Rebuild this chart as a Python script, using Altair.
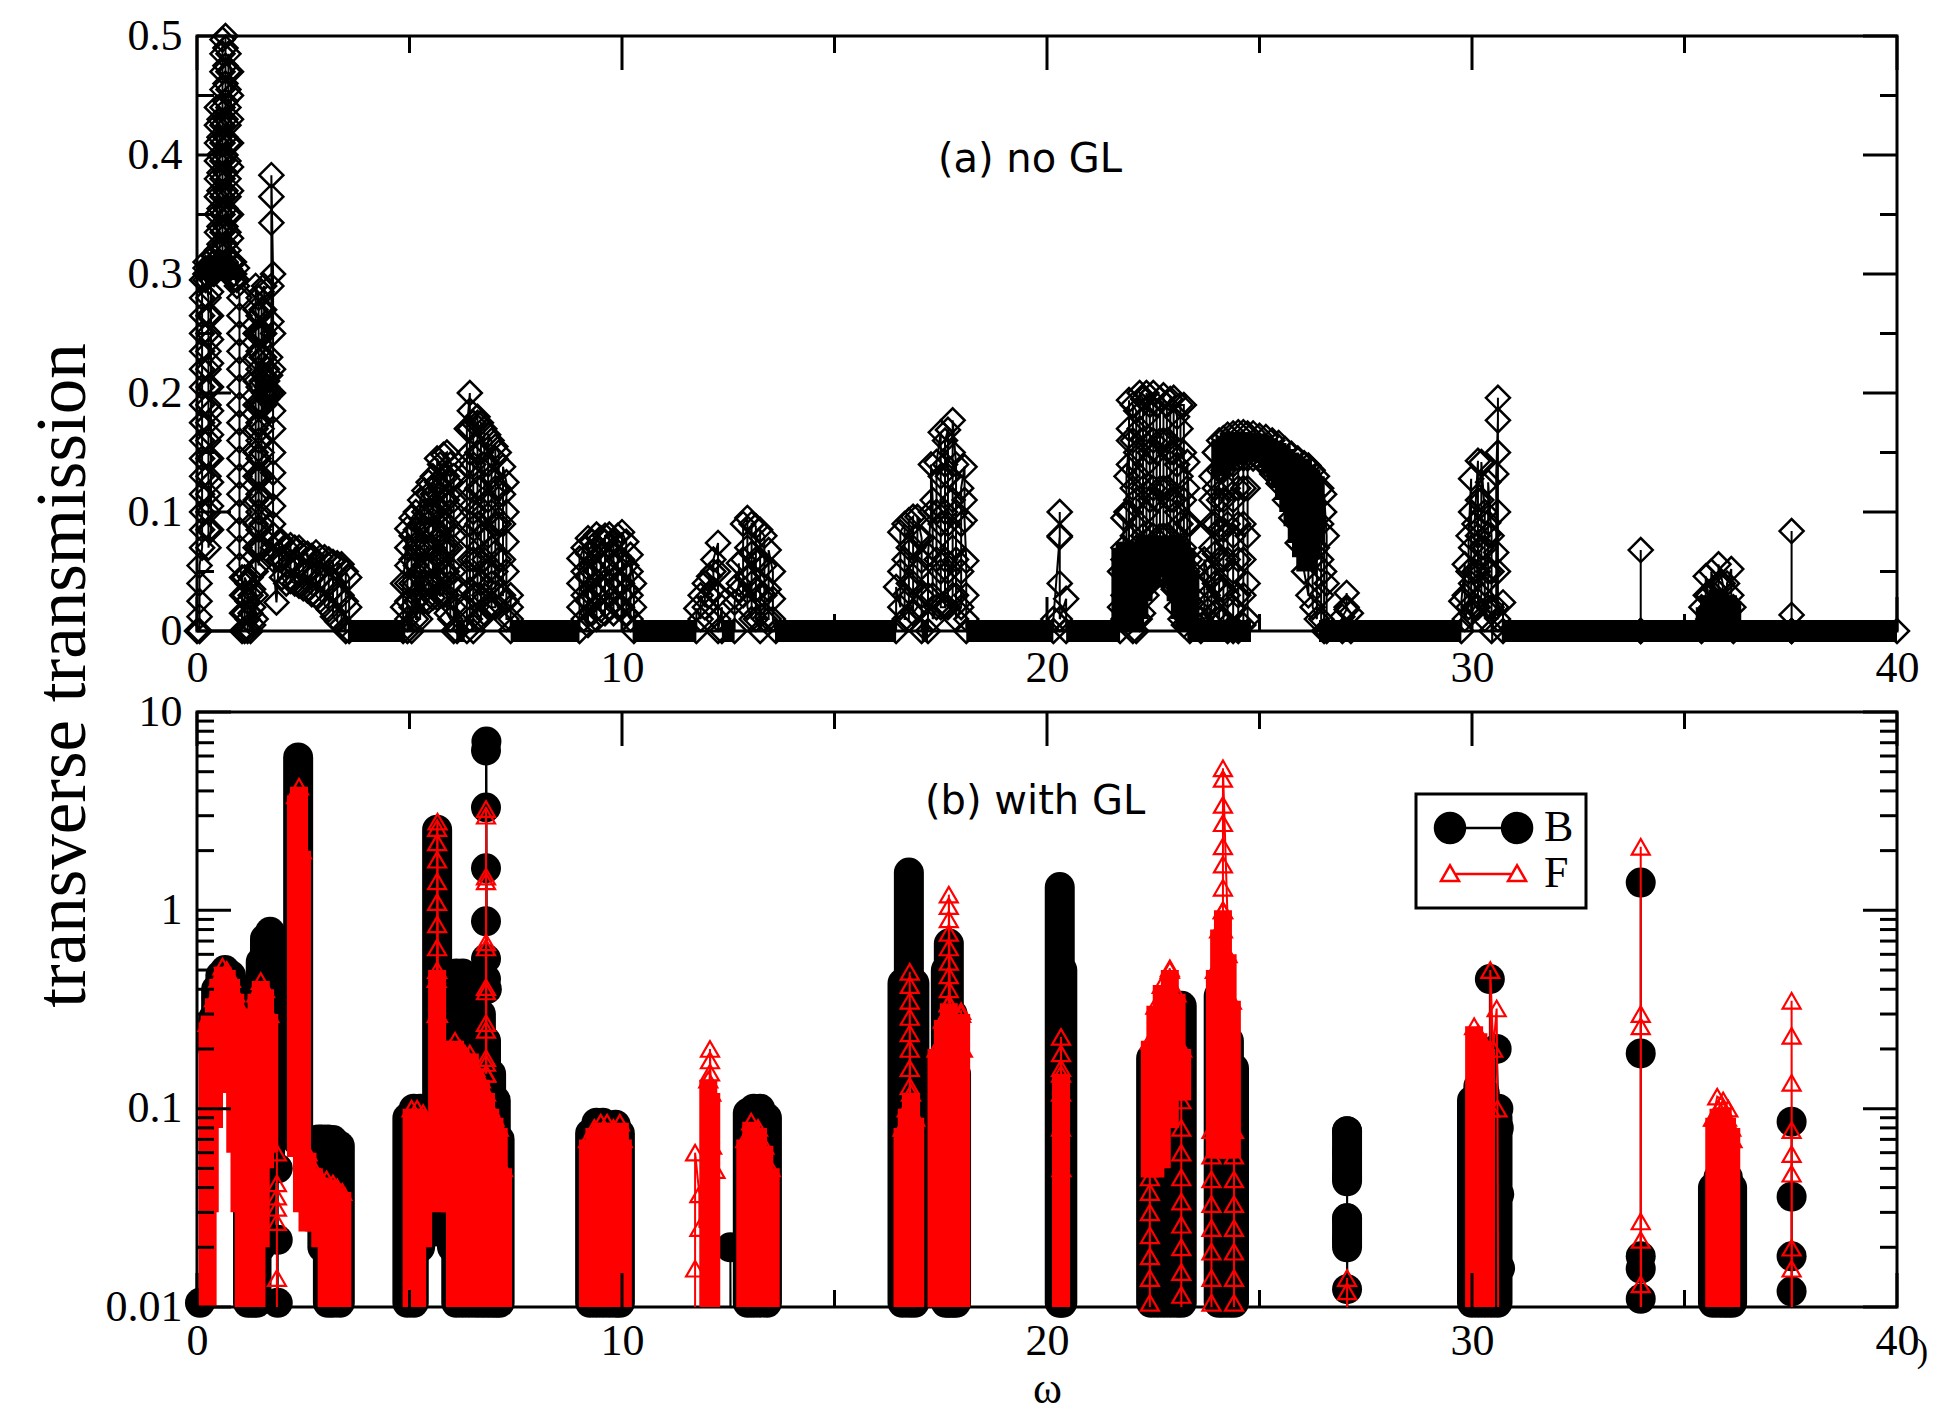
import altair as alt
import pandas as pd

W, H = 1700, 595
SERIF = "Liberation Serif"

# ---------------- panel (a): no GL  (omega, [T values in sequence]) ----------------
A_RUNS = [
    (0.00, [0.0]),
    (0.06, [0.0, 0.012, 0.025, 0.04, 0.055]),
    (0.12, [0.07, 0.085, 0.1, 0.115, 0.13, 0.145, 0.16, 0.175, 0.19, 0.205, 0.22, 0.235, 0.25, 0.265, 0.28, 0.295]),
    (0.2, [0.305, 0.3, 0.31, 0.295]),
    (0.27, [0.28, 0.265, 0.25, 0.235, 0.22, 0.205, 0.19, 0.175, 0.16, 0.145, 0.13, 0.115, 0.1, 0.085, 0.07]),
    (0.33, [0.085, 0.105, 0.125, 0.145, 0.165, 0.185, 0.205, 0.225, 0.245, 0.265, 0.285, 0.3]),
    (0.4, [0.31, 0.3, 0.315, 0.305]),
    (0.47, [0.32, 0.335, 0.35, 0.365, 0.38, 0.395, 0.41, 0.425, 0.44]),
    (0.53, [0.43, 0.415, 0.4, 0.385, 0.37, 0.355, 0.34, 0.325, 0.31]),
    (0.6, [0.32, 0.335, 0.35, 0.365, 0.38, 0.395, 0.41, 0.425, 0.44, 0.455, 0.47, 0.485, 0.497]),
    (0.67, [0.5, 0.49, 0.475, 0.46, 0.445, 0.43, 0.415, 0.4, 0.385, 0.37, 0.355, 0.34, 0.325, 0.31]),
    (0.74, [0.32, 0.335, 0.35, 0.365, 0.38, 0.395, 0.41, 0.425, 0.44, 0.455, 0.47, 0.485]),
    (0.8, [0.47, 0.45, 0.43, 0.41, 0.39, 0.37, 0.35, 0.33, 0.31]),
    (0.87, [0.3, 0.295, 0.31, 0.3]),
    (0.94, [0.29, 0.305, 0.295]),
    (1.0, [0.28, 0.265, 0.25, 0.235, 0.22, 0.205, 0.19, 0.175, 0.16, 0.145, 0.13, 0.115, 0.1, 0.085, 0.07, 0.055]),
    (1.06, [0.045, 0.03, 0.015, 0.0]),
    (1.12, [0.0, 0.015, 0.03, 0.045]),
    (1.19, [0.04, 0.025, 0.01, 0.0]),
    (1.26, [0.0, 0.015, 0.03, 0.045]),
    (1.32, [0.035, 0.02, 0.005]),
    (1.38, [0.01, 0.03, 0.05, 0.07, 0.09, 0.11, 0.13, 0.15, 0.17, 0.19, 0.21, 0.23, 0.25, 0.27, 0.29]),
    (1.45, [0.28, 0.265, 0.25, 0.235, 0.22, 0.205, 0.19, 0.175, 0.16, 0.145, 0.13, 0.115, 0.1, 0.085, 0.07, 0.055]),
    (1.52, [0.07, 0.09, 0.11, 0.13, 0.15, 0.17, 0.19, 0.21, 0.23, 0.25, 0.27, 0.285]),
    (1.58, [0.29, 0.27, 0.25, 0.23, 0.215, 0.2, 0.19]),
    (1.65, [0.2, 0.21, 0.22, 0.205, 0.195]),
    (1.72, [0.2, 0.215, 0.23]),
    (1.75, [0.26, 0.29, 0.343, 0.365, 0.383]),
    (1.79, [0.3, 0.25, 0.22, 0.2, 0.185, 0.17, 0.15, 0.133, 0.12, 0.105, 0.09, 0.081, 0.07, 0.06]),
    (1.87, [0.024]),
    (1.93, [0.06, 0.075]),
    (2.0, [0.075, 0.06, 0.045]),
    (2.1, [0.04, 0.055, 0.07]),
    (2.2, [0.072, 0.058, 0.042]),
    (2.3, [0.04, 0.055, 0.07]),
    (2.4, [0.07, 0.055, 0.038]),
    (2.5, [0.036, 0.05, 0.066]),
    (2.6, [0.065, 0.05, 0.034]),
    (2.7, [0.031, 0.046, 0.063]),
    (2.8, [0.066, 0.048, 0.03]),
    (2.9, [0.026, 0.045, 0.062]),
    (3.0, [0.062, 0.042, 0.022]),
    (3.1, [0.018, 0.04, 0.06]),
    (3.2, [0.058, 0.035, 0.012]),
    (3.3, [0.008, 0.03, 0.057]),
    (3.4, [0.056, 0.03, 0.005]),
    (3.5, [0.0, 0.025, 0.05]),
    (3.58, [0.045, 0.02, 0.0]),
    (4.85, [0.0, 0.02, 0.04]),
    (4.95, [0.086, 0.07, 0.055, 0.04, 0.025, 0.01, 0.0]),
    (5.05, [0.0, 0.02, 0.04, 0.06, 0.08, 0.095]),
    (5.15, [0.1, 0.085, 0.07, 0.055, 0.04, 0.025, 0.01]),
    (5.25, [0.01, 0.03, 0.05, 0.07, 0.09, 0.11]),
    (5.35, [0.118, 0.1, 0.085, 0.07, 0.055, 0.04, 0.025]),
    (5.45, [0.025, 0.04, 0.055, 0.07, 0.085, 0.1, 0.115, 0.125]),
    (5.55, [0.13, 0.115, 0.1, 0.085, 0.07, 0.055, 0.04, 0.028]),
    (5.65, [0.028, 0.045, 0.065, 0.085, 0.105, 0.125, 0.145]),
    (5.72, [0.14, 0.12, 0.1, 0.08, 0.06, 0.04, 0.03]),
    (5.8, [0.03, 0.05, 0.07, 0.09, 0.11, 0.13, 0.148]),
    (5.88, [0.15, 0.13, 0.11, 0.09, 0.07, 0.05, 0.03, 0.015]),
    (5.96, [0.01, 0.04, 0.07, 0.1, 0.125, 0.14]),
    (6.04, [0.13, 0.11, 0.08, 0.05, 0.02, 0.0]),
    (6.12, [0.035, 0.0]),
    (6.35, [0.0, 0.02, 0.05, 0.08, 0.11, 0.14, 0.17]),
    (6.42, [0.2, 0.185, 0.17, 0.15, 0.12, 0.09, 0.06, 0.035, 0.01]),
    (6.5, [0.0, 0.03, 0.06, 0.1, 0.14, 0.175]),
    (6.6, [0.18, 0.175, 0.15, 0.12, 0.09, 0.06, 0.03, 0.01]),
    (6.68, [0.01, 0.04, 0.08, 0.12, 0.15, 0.175]),
    (6.76, [0.17, 0.14, 0.1, 0.06, 0.03, 0.015]),
    (6.85, [0.02, 0.05, 0.08, 0.11, 0.14, 0.165]),
    (6.93, [0.16, 0.13, 0.1, 0.07, 0.04, 0.02]),
    (7.02, [0.02, 0.05, 0.09, 0.12, 0.145, 0.155]),
    (7.1, [0.15, 0.12, 0.09, 0.06, 0.03]),
    (7.2, [0.03, 0.06, 0.09, 0.115, 0.138]),
    (7.28, [0.125, 0.1, 0.075, 0.05, 0.025, 0.01]),
    (7.38, [0.01, 0.03, 0.02, 0.0]),
    (9.0, [0.0, 0.02, 0.04, 0.061]),
    (9.1, [0.07, 0.05, 0.03, 0.01]),
    (9.2, [0.005, 0.025, 0.045, 0.065, 0.078]),
    (9.3, [0.075, 0.055, 0.035, 0.015]),
    (9.4, [0.01, 0.03, 0.05, 0.07, 0.081]),
    (9.5, [0.078, 0.058, 0.038, 0.018]),
    (9.6, [0.015, 0.035, 0.055, 0.075, 0.08]),
    (9.7, [0.081, 0.06, 0.04, 0.02]),
    (9.8, [0.015, 0.035, 0.055, 0.075]),
    (9.9, [0.08, 0.06, 0.04, 0.02]),
    (10.0, [0.02, 0.04, 0.06, 0.083]),
    (10.1, [0.075, 0.055, 0.035, 0.015]),
    (10.2, [0.01, 0.03, 0.05, 0.064]),
    (10.28, [0.04, 0.02, 0.0]),
    (11.75, [0.0, 0.019]),
    (11.85, [0.01, 0.03]),
    (11.95, [0.02, 0.04]),
    (12.05, [0.03, 0.046]),
    (12.15, [0.035, 0.05, 0.06]),
    (12.26, [0.074, 0.05, 0.03, 0.01, 0.0]),
    (12.35, [0.02, 0.0]),
    (12.65, [0.0, 0.024]),
    (12.75, [0.04, 0.057, 0.035]),
    (12.85, [0.03, 0.06, 0.09]),
    (12.95, [0.095, 0.07, 0.045, 0.02]),
    (13.05, [0.01, 0.04, 0.065, 0.09]),
    (13.15, [0.088, 0.06, 0.035, 0.01]),
    (13.25, [0.0, 0.03, 0.06, 0.085]),
    (13.35, [0.08, 0.055, 0.03, 0.01]),
    (13.45, [0.01, 0.035, 0.068]),
    (13.55, [0.05, 0.027, 0.01]),
    (13.62, [0.0]),
    (16.45, [0.0, 0.037]),
    (16.55, [0.02, 0.05, 0.083]),
    (16.65, [0.09, 0.06, 0.03, 0.01]),
    (16.75, [0.01, 0.04, 0.07, 0.093]),
    (16.85, [0.096, 0.07, 0.04, 0.015]),
    (16.95, [0.02, 0.05, 0.08, 0.096]),
    (17.05, [0.078, 0.059, 0.03, 0.0]),
    (17.2, [0.0, 0.03, 0.064]),
    (17.27, [0.1, 0.14]),
    (17.31, [0.11, 0.07, 0.03, 0.01]),
    (17.4, [0.02, 0.06, 0.1, 0.142]),
    (17.5, [0.167, 0.13, 0.09, 0.05, 0.02]),
    (17.6, [0.02, 0.06, 0.1, 0.14, 0.16]),
    (17.67, [0.169, 0.13, 0.09, 0.05, 0.02]),
    (17.78, [0.03, 0.07, 0.11, 0.15, 0.177]),
    (17.86, [0.14, 0.1, 0.06, 0.03, 0.01]),
    (17.98, [0.02, 0.05, 0.09, 0.12]),
    (18.06, [0.138, 0.11, 0.093]),
    (18.1, [0.059, 0.03, 0.01, 0.0]),
    (20.15, [0.0, 0.01]),
    (20.3, [0.08, 0.1, 0.079, 0.04, 0.01]),
    (20.45, [0.027, 0.0]),
    (21.72, [0.0, 0.02, 0.05]),
    (21.8, [0.07, 0.095, 0.06, 0.03, 0.01]),
    (21.87, [0.02, 0.06, 0.1, 0.13]),
    (21.93, [0.16, 0.194, 0.17, 0.14, 0.1, 0.06, 0.03, 0.01]),
    (22.02, [0.0, 0.04, 0.08, 0.12, 0.16, 0.19]),
    (22.1, [0.185, 0.15, 0.11, 0.07, 0.03, 0.0]),
    (22.18, [0.01, 0.05, 0.09, 0.13, 0.17, 0.2]),
    (22.26, [0.195, 0.16, 0.12, 0.08, 0.04, 0.015]),
    (22.34, [0.03, 0.06, 0.1, 0.14, 0.18, 0.2]),
    (22.42, [0.19, 0.15, 0.11, 0.07, 0.04]),
    (22.5, [0.045, 0.08, 0.12, 0.16, 0.2]),
    (22.58, [0.19, 0.15, 0.11, 0.07, 0.046]),
    (22.66, [0.048, 0.08, 0.12, 0.16, 0.195]),
    (22.74, [0.198, 0.16, 0.12, 0.08, 0.048]),
    (22.82, [0.046, 0.08, 0.12, 0.16, 0.19]),
    (22.9, [0.195, 0.15, 0.11, 0.07, 0.04]),
    (22.98, [0.035, 0.07, 0.11, 0.15, 0.196]),
    (23.06, [0.18, 0.14, 0.1, 0.06, 0.02]),
    (23.14, [0.01, 0.05, 0.09, 0.13, 0.17, 0.19]),
    (23.22, [0.19, 0.15, 0.11, 0.07, 0.03, 0.005]),
    (23.3, [0.01, 0.05, 0.09, 0.12, 0.142]),
    (23.36, [0.09, 0.06, 0.025, 0.0]),
    (23.62, [0.0, 0.01]),
    (23.7, [0.02, 0.04, 0.06]),
    (23.78, [0.05, 0.03, 0.01]),
    (23.87, [0.02, 0.045, 0.07, 0.09, 0.11, 0.13]),
    (23.95, [0.15, 0.12, 0.09, 0.065, 0.04, 0.015]),
    (24.05, [0.01, 0.035, 0.06, 0.085, 0.11, 0.135, 0.16]),
    (24.15, [0.162, 0.135, 0.11, 0.085, 0.06, 0.035, 0.01]),
    (24.25, [0.0, 0.03, 0.06, 0.09, 0.12, 0.15, 0.165]),
    (24.38, [0.166, 0.14, 0.11, 0.08, 0.05, 0.02, 0.0]),
    (24.5, [0.0, 0.03, 0.06, 0.09, 0.12, 0.145, 0.167]),
    (24.62, [0.167, 0.145, 0.12, 0.09, 0.06, 0.03, 0.005]),
    (24.72, [0.01, 0.04, 0.08, 0.12, 0.145, 0.166]),
    (24.85, [0.166, 0.145]),
    (25.0, [0.144, 0.164]),
    (25.15, [0.163, 0.14]),
    (25.3, [0.132, 0.16]),
    (25.45, [0.158, 0.124]),
    (25.6, [0.11, 0.153]),
    (25.75, [0.149, 0.095]),
    (25.9, [0.074, 0.145]),
    (26.05, [0.141, 0.05]),
    (26.15, [0.03, 0.139]),
    (26.25, [0.135, 0.06, 0.02]),
    (26.35, [0.01, 0.07, 0.13]),
    (26.45, [0.12, 0.09, 0.06, 0.03, 0.01]),
    (26.52, [0.0, 0.05, 0.1, 0.115]),
    (26.58, [0.08, 0.04, 0.0]),
    (26.95, [0.0, 0.012]),
    (27.05, [0.018, 0.032, 0.02]),
    (27.15, [0.015, 0.0]),
    (29.75, [0.0, 0.025]),
    (29.83, [0.056, 0.03, 0.01]),
    (29.92, [0.02, 0.05, 0.08]),
    (29.98, [0.128, 0.1, 0.07, 0.04, 0.015]),
    (30.06, [0.02, 0.05, 0.09]),
    (30.14, [0.143, 0.11, 0.08, 0.05, 0.02]),
    (30.22, [0.03, 0.07, 0.11, 0.142]),
    (30.3, [0.1, 0.07, 0.04, 0.01]),
    (30.38, [0.02, 0.05, 0.081, 0.091, 0.125]),
    (30.46, [0.08, 0.05, 0.02, 0.0]),
    (30.57, [0.02, 0.066, 0.132]),
    (30.61, [0.177, 0.196, 0.15, 0.1, 0.05, 0.01]),
    (30.73, [0.024, 0.0]),
    (33.97, [0.0, 0.068, 0.0]),
    (35.4, [0.0, 0.02]),
    (35.5, [0.03, 0.046]),
    (35.56, [0.03, 0.01]),
    (35.63, [0.02, 0.05]),
    (35.72, [0.035, 0.015]),
    (35.8, [0.02, 0.04, 0.056]),
    (35.9, [0.04, 0.02, 0.005]),
    (36.0, [0.02, 0.04]),
    (36.1, [0.052, 0.03]),
    (36.15, [0.02, 0.0]),
    (37.52, [0.0, 0.084, 0.0135, 0.0]),
    (40.0, [0.0]),
]

# dense, fully overlapped stretches of diamonds in (a): (omega, T low, T high)
A_SOLID = [
    (0.25, 0.295, 0.31), (0.35, 0.295, 0.315), (0.45, 0.3, 0.315), (0.55, 0.3, 0.315),
    (0.65, 0.3, 0.31), (0.75, 0.3, 0.31), (0.85, 0.295, 0.305),
    (21.75, 0.0, 0.07), (21.85, 0.0, 0.075), (21.95, 0.0, 0.075), (22.05, 0.0, 0.075),
    (22.15, 0.01, 0.075), (22.25, 0.025, 0.075), (22.35, 0.035, 0.08), (22.45, 0.04, 0.08),
    (22.55, 0.045, 0.08), (22.65, 0.048, 0.08), (22.75, 0.048, 0.08), (22.85, 0.045, 0.08),
    (22.95, 0.038, 0.08), (23.05, 0.025, 0.078), (23.15, 0.01, 0.075), (23.25, 0.0, 0.07),
    (23.35, 0.0, 0.05),
    (24.1, 0.13, 0.16), (24.2, 0.135, 0.164), (24.3, 0.138, 0.166), (24.4, 0.14, 0.167),
    (24.5, 0.142, 0.167), (24.6, 0.143, 0.167), (24.7, 0.144, 0.166), (24.8, 0.145, 0.166),
    (24.9, 0.144, 0.166), (25.0, 0.143, 0.165), (25.1, 0.141, 0.164), (25.2, 0.137, 0.162),
    (25.3, 0.132, 0.16), (25.4, 0.126, 0.158), (25.5, 0.12, 0.156), (25.6, 0.11, 0.153),
    (25.7, 0.1, 0.15), (25.8, 0.088, 0.147), (25.9, 0.074, 0.145), (26.0, 0.062, 0.143),
    (26.1, 0.05, 0.14), (26.2, 0.06, 0.136), (26.3, 0.075, 0.13),
    (35.5, 0.0, 0.02), (35.6, 0.0, 0.03), (35.7, 0.0, 0.03), (35.8, 0.0, 0.035),
    (35.9, 0.0, 0.03), (36.0, 0.0, 0.03), (36.1, 0.0, 0.025),
]

# stretches where T(a) stays at zero (omega from, omega to)
A_ZERO = [
    (3.55, 4.9), (6.1, 6.3), (7.38, 9.0), (10.25, 11.75), (12.35, 12.65), (13.6, 16.45),
    (17.05, 17.2), (18.1, 20.15), (20.45, 21.72), (23.3, 24.8), (26.4, 29.75),
    (30.45, 30.5), (30.7, 40.0),
]

# ---------------- panel (b): with GL ----------------
# dense stacks of symbols: (omega, T low, T high)
B_SOLID = [
    (0.07, 0.0105, 0.0105),
    (0.38, 0.2, 0.286), (0.45, 0.25, 0.4), (0.55, 0.25, 0.47), (0.66, 0.26, 0.5), (0.8, 0.25, 0.47),
    (0.95, 0.2, 0.4), (1.05, 0.1, 0.33), (1.2, 0.0105, 0.29), (1.3, 0.0105, 0.28), (1.4, 0.0105, 0.35),
    (1.5, 0.02, 0.55), (1.6, 0.05, 0.72), (1.72, 0.06, 0.78),
    (2.38, 0.068, 5.9),
    (2.85, 0.03, 0.07), (2.95, 0.02, 0.07), (3.08, 0.0105, 0.07), (3.2, 0.0105, 0.0695), (3.36, 0.0105, 0.065),
    (4.95, 0.0105, 0.09), (5.1, 0.0105, 0.1), (5.25, 0.02, 0.1), (5.65, 0.024, 2.55),
    (5.85, 0.03, 0.35), (6.0, 0.02, 0.45), (6.1, 0.0105, 0.48), (6.25, 0.0105, 0.48), (6.4, 0.0105, 0.46),
    (6.55, 0.0105, 0.38), (6.68, 0.0105, 0.3), (6.8, 0.0105, 0.22), (6.92, 0.0105, 0.15),
    (7.03, 0.0105, 0.11), (7.12, 0.0105, 0.07),
    (9.25, 0.0105, 0.075), (9.4, 0.0105, 0.085), (9.55, 0.0105, 0.085), (9.7, 0.0105, 0.08),
    (9.85, 0.0105, 0.083), (9.95, 0.0105, 0.075),
    (12.96, 0.0105, 0.095), (13.1, 0.0105, 0.1), (13.25, 0.0105, 0.1), (13.41, 0.0105, 0.09),
    (16.6, 0.0105, 0.43), (16.75, 0.0105, 1.55), (16.88, 0.0105, 0.43),
    (17.62, 0.0105, 0.5), (17.69, 0.0105, 0.68), (17.78, 0.0105, 0.3), (17.86, 0.0105, 0.15),
    (20.3, 0.0105, 1.31), (20.36, 0.0105, 0.5),
    (22.45, 0.0105, 0.18), (22.6, 0.0105, 0.17), (22.75, 0.0105, 0.2), (22.9, 0.0105, 0.26),
    (23.05, 0.0105, 0.3), (23.17, 0.0105, 0.33),
    (24.04, 0.0105, 0.37), (24.15, 0.0105, 0.3), (24.28, 0.0105, 0.22), (24.4, 0.0105, 0.16),
    (27.06, 0.043, 0.077), (27.06, 0.02, 0.028),
    (30.0, 0.0105, 0.11), (30.15, 0.0105, 0.13), (30.3, 0.0105, 0.12), (30.45, 0.0105, 0.1), (30.6, 0.0105, 0.09),
    (35.67, 0.0105, 0.04), (35.8, 0.0105, 0.045), (35.92, 0.0105, 0.048), (36.02, 0.0105, 0.045), (36.12, 0.0105, 0.04),
]

F_SOLID = [
    (0.25, 0.01, 0.27), (0.3, 0.03, 0.3), (0.4, 0.08, 0.36), (0.5, 0.18, 0.45), (0.6, 0.25, 0.52),
    (0.7, 0.2, 0.5), (0.8, 0.12, 0.45), (0.9, 0.06, 0.38), (1.0, 0.03, 0.32), (1.1, 0.01, 0.3),
    (1.2, 0.01, 0.28), (1.3, 0.01, 0.3), (1.4, 0.01, 0.38), (1.5, 0.02, 0.44), (1.6, 0.05, 0.4), (1.7, 0.06, 0.3),
    (2.33, 0.057, 3.8), (2.4, 0.057, 4.2), (2.47, 0.03, 2.0),
    (2.6, 0.024, 0.06), (2.75, 0.024, 0.05), (2.9, 0.02, 0.045), (3.05, 0.01, 0.044), (3.2, 0.01, 0.042),
    (3.3, 0.01, 0.04), (3.42, 0.01, 0.038),
    (5.05, 0.01, 0.1), (5.18, 0.01, 0.1), (5.32, 0.02, 0.095), (5.65, 0.03, 0.5),
    (5.95, 0.03, 0.2), (6.07, 0.01, 0.22), (6.2, 0.01, 0.2), (6.3, 0.01, 0.19), (6.42, 0.01, 0.19),
    (6.55, 0.01, 0.16), (6.68, 0.01, 0.14), (6.8, 0.01, 0.12), (6.9, 0.01, 0.1), (7.0, 0.01, 0.09),
    (7.1, 0.01, 0.08), (7.2, 0.01, 0.05),
    (9.2, 0.01, 0.07), (9.35, 0.01, 0.08), (9.5, 0.01, 0.085), (9.65, 0.01, 0.085), (9.8, 0.01, 0.08),
    (9.95, 0.01, 0.085), (10.02, 0.01, 0.07),
    (12.03, 0.01, 0.14), (12.1, 0.01, 0.12),
    (12.9, 0.01, 0.07), (13.04, 0.01, 0.086), (13.2, 0.01, 0.08), (13.35, 0.01, 0.065), (13.5, 0.01, 0.05),
    (16.6, 0.01, 0.08), (16.7, 0.01, 0.1), (16.8, 0.01, 0.12), (16.9, 0.01, 0.09),
    (17.4, 0.01, 0.2), (17.55, 0.01, 0.28), (17.69, 0.01, 0.34), (17.8, 0.01, 0.28), (17.98, 0.01, 0.3),
    (20.33, 0.01, 0.15),
    (22.42, 0.045, 0.22), (22.55, 0.045, 0.33), (22.7, 0.05, 0.42), (22.89, 0.08, 0.5),
    (23.05, 0.11, 0.38), (23.18, 0.11, 0.2),
    (23.95, 0.056, 0.5), (24.05, 0.056, 0.8), (24.14, 0.06, 1.0), (24.25, 0.056, 0.6), (24.35, 0.056, 0.35),
    (30.05, 0.01, 0.26), (30.15, 0.01, 0.24), (30.25, 0.01, 0.22), (30.33, 0.01, 0.2),
    (35.7, 0.01, 0.09), (35.8, 0.01, 0.1), (35.9, 0.01, 0.1), (36.0, 0.01, 0.09), (36.1, 0.01, 0.08),
]

# individually visible points, joined by the line (values below 0.01 run off the frame)
B_SEGS = [
    [(1.9, 0.005), (1.9, 0.0105), (1.9, 0.0218), (1.9, 0.05)],
    [(6.8, 0.45), (6.8, 0.57), (6.8, 0.88), (6.8, 1.63), (6.8, 3.3), (6.8, 6.4), (6.81, 7.1), (6.82, 0.4)],
    [(12.55, 0.005), (12.55, 0.02), (12.56, 0.005)],
    [(27.06, 0.005), (27.06, 0.0123), (27.06, 0.022), (27.06, 0.028), (27.06, 0.045), (27.06, 0.06),
     (27.06, 0.077), (27.07, 0.005)],
    [(30.42, 0.09), (30.42, 0.45), (30.5, 0.1), (30.58, 0.2), (30.62, 0.1), (30.63, 0.08), (30.64, 0.037),
     (30.66, 0.0157), (30.68, 0.005)],
    [(33.97, 0.005), (33.97, 0.011), (33.97, 0.0156), (33.97, 0.018), (33.97, 0.19), (33.97, 1.38), (33.98, 0.005)],
    [(37.52, 0.005), (37.52, 0.012), (37.52, 0.018), (37.52, 0.036), (37.52, 0.086), (37.53, 0.005)],
]

F_SEGS = [
    [(1.88, 0.005), (1.88, 0.014), (1.88, 0.0268), (1.88, 0.0316), (1.88, 0.036), (1.88, 0.042), (1.88, 0.06)],
    [(5.64, 0.3), (5.64, 0.45), (5.65, 0.65), (5.65, 0.85), (5.65, 1.1), (5.65, 1.4), (5.65, 1.8),
     (5.65, 2.2), (5.65, 2.6), (5.66, 2.8), (5.67, 0.3)],
    [(6.8, 0.15), (6.8, 0.17), (6.8, 0.18), (6.8, 0.25), (6.8, 0.27), (6.8, 0.39), (6.8, 0.41), (6.8, 0.65),
     (6.8, 0.69), (6.8, 1.4), (6.8, 1.48), (6.8, 3.0), (6.8, 3.24), (6.81, 0.15)],
    [(11.72, 0.005), (11.72, 0.0156), (11.72, 0.06), (11.82, 0.037), (11.82, 0.025), (12.07, 0.152),
     (12.07, 0.175), (12.07, 0.2), (12.12, 0.065), (12.2, 0.049), (12.3, 0.005)],
    [(16.77, 0.1), (16.77, 0.13), (16.77, 0.16), (16.77, 0.2), (16.77, 0.24), (16.77, 0.29), (16.77, 0.35),
     (16.77, 0.42), (16.77, 0.49), (16.78, 0.1)],
    [(17.69, 0.34), (17.69, 0.4), (17.69, 0.47), (17.69, 0.55), (17.69, 0.65), (17.69, 0.77), (17.69, 0.9),
     (17.69, 1.05), (17.69, 1.2), (17.72, 0.3), (17.98, 0.31), (18.02, 0.2)],
    [(20.33, 0.08), (20.33, 0.12), (20.33, 0.16), (20.33, 0.19), (20.33, 0.23), (20.34, 0.05)],
    [(22.42, 0.005), (22.42, 0.0105), (22.42, 0.014), (22.42, 0.018), (22.42, 0.023), (22.42, 0.03),
     (22.42, 0.038), (22.42, 0.045), (22.6, 0.3), (22.89, 0.51), (23.16, 0.11), (23.16, 0.08), (23.16, 0.06),
     (23.16, 0.045), (23.16, 0.034), (23.16, 0.026), (23.16, 0.02), (23.16, 0.015), (23.16, 0.0115), (23.17, 0.005)],
    [(23.87, 0.005), (23.87, 0.0105), (23.87, 0.014), (23.87, 0.019), (23.87, 0.025), (23.87, 0.033),
     (23.87, 0.044), (23.87, 0.058), (23.87, 0.078), (24.14, 0.4), (24.14, 0.6), (24.14, 0.8), (24.14, 1.0),
     (24.14, 1.3), (24.14, 1.7), (24.14, 2.1), (24.14, 2.75), (24.14, 3.4), (24.14, 4.6), (24.14, 5.2),
     (24.4, 0.078), (24.4, 0.058), (24.4, 0.044), (24.4, 0.033), (24.4, 0.025), (24.4, 0.019), (24.4, 0.014),
     (24.4, 0.0105), (24.41, 0.005)],
    [(27.06, 0.005), (27.06, 0.012), (27.06, 0.014), (27.07, 0.005)],
    [(30.43, 0.1), (30.43, 0.5), (30.5, 0.2), (30.58, 0.32), (30.6, 0.1), (30.62, 0.005)],
    [(33.97, 0.005), (33.97, 0.013), (33.97, 0.0218), (33.97, 0.027), (33.97, 0.26), (33.97, 0.3),
     (33.97, 2.09), (33.98, 0.005)],
    [(35.67, 0.09), (35.77, 0.115), (35.91, 0.11), (36.03, 0.1), (36.13, 0.07)],
    [(37.52, 0.005), (37.52, 0.0156), (37.52, 0.0199), (37.52, 0.047), (37.52, 0.059), (37.52, 0.078),
     (37.52, 0.135), (37.52, 0.233), (37.52, 0.35), (37.53, 0.005)],
]

# axes / ticks / labels
X_MAJOR = [0, 10, 20, 30, 40]
X_MINOR = [5, 15, 25, 35]
A_Y_MAJOR = [0, 0.1, 0.2, 0.3, 0.4, 0.5]
A_Y_MINOR = [0.05, 0.15, 0.25, 0.35, 0.45]
B_Y_MAJOR = [0.01, 0.1, 1, 10]
B_Y_MINOR = [0.02, 0.03, 0.04, 0.05, 0.06, 0.07, 0.08, 0.09,
             0.2, 0.3, 0.4, 0.5, 0.6, 0.7, 0.8, 0.9,
             2, 3, 4, 5, 6, 7, 8, 9]
SERIES = ["B", "F"]
LABEL_A = "(a) no GL"
LABEL_B = "(b) with GL"

# legend glyphs: symbol - line - symbol
PATH_B = ("M -1,0 A 1,1 0 1,1 1,0 A 1,1 0 1,1 -1,0 Z M 1,0 L 3.47,0 "
          "M 3.47,0 A 1,1 0 1,1 5.47,0 A 1,1 0 1,1 3.47,0 Z")
PATH_F = ("M -0.6,0.46 L 0.6,0.46 L 0,-0.58 Z M 0.3,0 L 4.17,0 "
          "M 3.87,0.46 L 5.07,0.46 L 4.47,-0.58 Z")

# ---------------- build tables ----------------
a_rows = []
k = 0
for w, vals in A_RUNS:
    for t in vals:
        a_rows.append({"w": w, "t": t, "i": k})
        k += 1
a_pts = pd.DataFrame(a_rows)
a_solid = pd.DataFrame(A_SOLID, columns=["w", "lo", "hi"])
a_zero = pd.DataFrame([{"x0": a, "x1": b, "y": 0.0} for a, b in A_ZERO])


def seg_table(segs):
    rows = []
    for s, seg in enumerate(segs):
        for j, (w, t) in enumerate(seg):
            rows.append({"w": w, "t": t, "seg": s, "i": j})
    return pd.DataFrame(rows)


b_line = seg_table(B_SEGS)
f_line = seg_table(F_SEGS)
b_solid = pd.DataFrame(B_SOLID, columns=["w", "lo", "hi"])
f_solid = pd.DataFrame(F_SOLID, columns=["w", "lo", "hi"])
b_pts = b_line[b_line["t"] >= 0.0099][["w", "t"]]
f_pts = pd.concat([f_line[f_line["t"] >= 0.0099][["w", "t"]],
                   f_solid.rename(columns={"hi": "t"})[["w", "t"]]], ignore_index=True)

xs = alt.Scale(domain=[0, 40], nice=False, zero=False)
ya = alt.Scale(domain=[0, 0.5], nice=False, zero=False)
yb = alt.Scale(type="log", domain=[0.01, 10], nice=False)

common_lbl = dict(labelFont=SERIF, labelFontSize=44, labelColor="black", ticks=False,
                  domain=False, grid=False)
XA = alt.Axis(values=X_MAJOR, format="d", title=None, labelPadding=15,
              labelFlush=False, **common_lbl)
XB = alt.Axis(values=X_MAJOR, format="d", title="ω", titleFont=SERIF, titleFontSize=44,
              titleFontWeight="normal", titleColor="black", titlePadding=4,
              labelPadding=12, labelFlush=False, **common_lbl)
YA = alt.Axis(values=A_Y_MAJOR, format="~g", title="transverse transmission",
              titleFont=SERIF, titleFontSize=71, titleFontWeight="normal",
              titleColor="black", titleAngle=270, titleX=-113, titleY=639,
              titleAlign="center", titleBaseline="alphabetic",
              labelPadding=15, **common_lbl)
YB = alt.Axis(values=B_Y_MAJOR, format="~g", title=None, labelPadding=15,
              labelOverlap=False, **common_lbl)


def X(field, xaxis):
    return alt.X(field, scale=xs, axis=xaxis)


def Y(field, yscale, yaxis):
    return alt.Y(field, scale=yscale, axis=yaxis)


def tick_layers(yscale, xaxis, yaxis, ymaj, ymin):
    out = []
    for vals, ln in ((ymaj, 34), (ymin, 17)):
        df = pd.DataFrame({"v": vals})
        for x0, x1 in ((0, ln), (W - ln, W)):
            out.append(alt.Chart(df).mark_rule(color="black", strokeWidth=3).encode(
                y=Y("v:Q", yscale, yaxis), x=alt.value(x0), x2=alt.value(x1)))
    for vals, ln in ((X_MAJOR, 34), (X_MINOR, 17)):
        df = pd.DataFrame({"v": vals})
        for y0, y1 in ((0, ln), (H - ln, H)):
            out.append(alt.Chart(df).mark_rule(color="black", strokeWidth=3).encode(
                x=X("v:Q", xaxis), y=alt.value(y0), y2=alt.value(y1)))
    return out


# ---------------- panel (a) ----------------
zero_layer = alt.Chart(a_zero).mark_rule(color="black", strokeWidth=22, strokeCap="butt").encode(
    x=X("x0:Q", XA), x2="x1:Q", y=Y("y:Q", ya, YA))
solid_a = alt.Chart(a_solid).mark_rule(color="black", strokeWidth=20, strokeCap="butt").encode(
    x=X("w:Q", XA), y=Y("lo:Q", ya, YA), y2="hi:Q")
line_a = alt.Chart(a_pts).mark_line(color="black", strokeWidth=2).encode(
    x=X("w:Q", XA), y=Y("t:Q", ya, YA), order="i:Q")
pts_a = alt.Chart(a_pts).mark_point(shape="diamond", size=576, filled=False, color="black",
                                    strokeWidth=2.5, opacity=1).encode(
    x=X("w:Q", XA), y=Y("t:Q", ya, YA))
text_a = alt.Chart(pd.DataFrame({"w": [19.6], "t": [0.3955], "s": [LABEL_A]})).mark_text(
    font="DejaVu Sans", fontSize=40, color="black", align="center", baseline="middle").encode(
    x=X("w:Q", XA), y=Y("t:Q", ya, YA), text="s:N")

panel_a = alt.layer(zero_layer, solid_a, line_a, pts_a, *tick_layers(ya, XA, YA, A_Y_MAJOR, A_Y_MINOR),
                    text_a).properties(width=W, height=H)

# ---------------- panel (b) ----------------
LEG = alt.Legend(title=None, orient="none", legendX=1219, legendY=758, labelFont=SERIF,
                 labelFontSize=44, labelColor="black", labelOffset=72, symbolSize=900,
                 symbolStrokeWidth=2.5, strokeColor="black", padding=12, rowPadding=2)

bsol = alt.Chart(b_solid).mark_rule(color="black", strokeWidth=30, strokeCap="round").encode(
    x=X("w:Q", XB), y=Y("lo:Q", yb, YB), y2="hi:Q")
bline = alt.Chart(b_line).mark_line(color="black", strokeWidth=2, clip=True).encode(
    x=X("w:Q", XB), y=Y("t:Q", yb, YB), detail="seg:N", order="i:Q")
bpts = alt.Chart(b_pts).mark_point(shape="circle", size=900, filled=True, color="black",
                                   opacity=1).encode(
    x=X("w:Q", XB), y=Y("t:Q", yb, YB))
fsol = alt.Chart(f_solid).mark_rule(color="red", strokeWidth=18, strokeCap="butt").encode(
    x=X("w:Q", XB), y=Y("lo:Q", yb, YB), y2="hi:Q")
fline = alt.Chart(f_line).mark_line(color="red", strokeWidth=2, clip=True).encode(
    x=X("w:Q", XB), y=Y("t:Q", yb, YB), detail="seg:N", order="i:Q")
fpts = alt.Chart(f_pts).mark_point(shape="triangle-up", size=324, filled=False, color="red",
                                   strokeWidth=2.2, opacity=1).encode(
    x=X("w:Q", XB), y=Y("t:Q", yb, YB))
leg = alt.Chart(pd.DataFrame({"series": SERIES, "w": [20, 20], "t": [1, 1]})).transform_filter(
    "false").mark_point(opacity=1, strokeWidth=2.5, size=900).encode(
    x=X("w:Q", XB), y=Y("t:Q", yb, YB),
    shape=alt.Shape("series:N", scale=alt.Scale(domain=SERIES, range=[PATH_B, PATH_F]), legend=LEG),
    fill=alt.Fill("series:N", scale=alt.Scale(domain=SERIES, range=["black", "transparent"]), legend=LEG),
    stroke=alt.Stroke("series:N", scale=alt.Scale(domain=SERIES, range=["black", "red"]), legend=LEG))
text_b = alt.Chart(pd.DataFrame({"w": [19.72], "t": [3.5], "s": [LABEL_B]})).mark_text(
    font="DejaVu Sans", fontSize=40, color="black", align="center", baseline="middle").encode(
    x=X("w:Q", XB), y=Y("t:Q", yb, YB), text="s:N")
text_paren = alt.Chart(pd.DataFrame({"w": [40.6], "t": [0.0059], "s": [")"]})).mark_text(
    font=SERIF, fontSize=34, color="black", align="center", baseline="middle").encode(
    x=X("w:Q", XB), y=Y("t:Q", yb, YB), text="s:N")

panel_b = alt.layer(bsol, bline, bpts, fsol, fline, fpts, leg,
                    *tick_layers(yb, XB, YB, B_Y_MAJOR, B_Y_MINOR), text_b, text_paren
                    ).properties(width=W, height=H)

chart = alt.vconcat(panel_a, panel_b, spacing=81, bounds="flush").properties(
    padding={"left": 17, "top": 4, "right": 0, "bottom": 0}
).configure_view(stroke="black", strokeWidth=3).configure_legend(strokeWidth=3)

chart.save("out.html", embed_options={"renderer": "svg", "actions": False})
